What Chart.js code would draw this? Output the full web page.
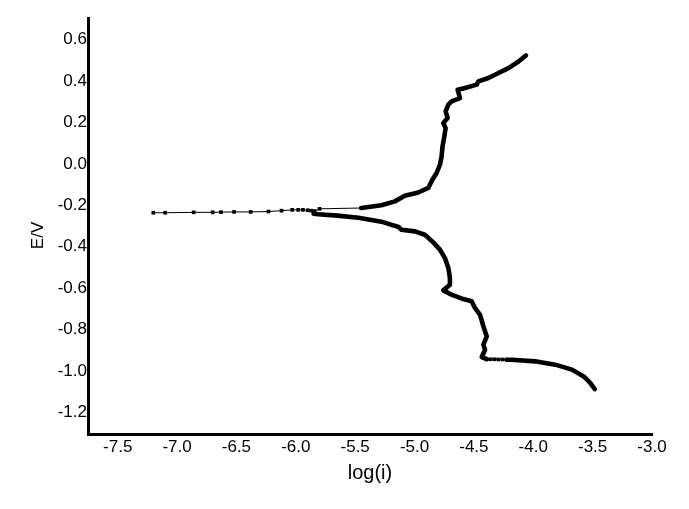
<!DOCTYPE html>
<html>
<head>
<meta charset="utf-8">
<script src="https://cdn.jsdelivr.net/npm/chart.js@4.4.1/dist/chart.umd.min.js"></script>
<style>
  html, body { margin: 0; padding: 0; background: #fff; }
  canvas { display: block; }
</style>
</head>
<body>
<canvas id="tafel" width="689" height="509"></canvas>
<script>
// Ticks dos eixos
const xTicks = [-7.5, -7.0, -6.5, -6.0, -5.5, -5.0, -4.5, -4.0, -3.5, -3.0];
const yTicks = [-1.2, -1.0, -0.8, -0.6, -0.4, -0.2, 0.0, 0.2, 0.4, 0.6];

// Ramo catodico (parte densa, de Ecorr para baixo)
const cathLogI = [-5.85, -5.811, -5.65, -5.473, -5.279, -5.135, -5.110, -4.997, -4.913, -4.842, -4.786, -4.744, -4.715, -4.702, -4.702, -4.758, -4.688, -4.589, -4.519, -4.491, -4.448, -4.420, -4.392, -4.420, -4.406, -4.434, -4.392];
const cathE    = [-0.241, -0.243, -0.250, -0.260, -0.279, -0.305, -0.318, -0.326, -0.342, -0.379, -0.414, -0.455, -0.503, -0.551, -0.584, -0.611, -0.632, -0.653, -0.664, -0.696, -0.729, -0.785, -0.833, -0.873, -0.898, -0.933, -0.943];

// Trecho pontilhado perto de -0.94 V
const dotLogI = [-4.392, -4.358, -4.324, -4.291, -4.257, -4.223];
const dotE    = [-0.944, -0.944, -0.944, -0.945, -0.945, -0.946];

// Cauda catodica final (corrente alta)
const tailLogI = [-4.223, -4.181, -3.984, -3.815, -3.674, -3.575, -3.519, -3.482];
const tailE    = [-0.946, -0.946, -0.954, -0.970, -0.994, -1.027, -1.059, -1.088];

// Pontos esparsos perto do potencial de corrosao
const ecorrLogI = [-7.20, -7.10, -6.86, -6.70, -6.63, -6.52, -6.38, -6.23, -6.12, -6.03, -5.98, -5.94, -5.90, -5.87, -5.84, -5.80, -5.448];
const ecorrE    = [-0.236, -0.236, -0.234, -0.234, -0.233, -0.232, -0.232, -0.230, -0.226, -0.222, -0.222, -0.222, -0.224, -0.226, -0.228, -0.217, -0.213];

// Ramo anodico
const anodLogI = [-5.448, -5.279, -5.166, -5.082, -4.969, -4.884, -4.850, -4.814, -4.786, -4.772, -4.764, -4.749, -4.738, -4.758, -4.721, -4.738, -4.715, -4.688, -4.617, -4.637, -4.575, -4.476, -4.462, -4.378, -4.293, -4.209, -4.124, -4.062];
const anodE    = [-0.213, -0.200, -0.181, -0.154, -0.138, -0.116, -0.076, -0.044, -0.004, 0.036, 0.085, 0.133, 0.173, 0.198, 0.222, 0.254, 0.286, 0.302, 0.318, 0.358, 0.367, 0.383, 0.399, 0.415, 0.439, 0.463, 0.495, 0.524];

const toPoints = (xs, ys) => xs.map((x, i) => ({ x: x, y: ys[i] }));

const FONT = "'Liberation Sans', Arial, sans-serif";

const thickLine = (xs, ys) => ({
    data: toPoints(xs, ys),
    showLine: true,
    borderColor: '#000',
    borderWidth: 4.6,
    borderJoinStyle: 'round',
    borderCapStyle: 'round',
    pointRadius: 0,
    tension: 0
});

const markedLine = (xs, ys) => ({
    data: toPoints(xs, ys),
    showLine: true,
    borderColor: '#000',
    borderWidth: 1,
    pointStyle: 'rect',
    pointRadius: 2.6,
    pointBackgroundColor: '#000',
    pointBorderColor: '#000',
    pointBorderWidth: 0,
    tension: 0
});

const ctx = document.getElementById('tafel').getContext('2d');
const tafelChart = new Chart(ctx, {
    type: 'scatter',
    data: {
        datasets: [
            markedLine(ecorrLogI, ecorrE),
            thickLine(cathLogI, cathE),
            markedLine(dotLogI, dotE),
            thickLine(tailLogI, tailE),
            thickLine(anodLogI, anodE)
        ]
    },
    options: {
        responsive: false,
        animation: false,
        devicePixelRatio: 1,
        layout: { padding: { top: 18, right: 37, bottom: 0, left: 0 } },
        plugins: { legend: { display: false }, tooltip: { enabled: false } },
        scales: {
            x: {
                type: 'linear',
                min: -7.75,
                max: -3.0,
                afterFit: (scale) => { scale.height = 75; },
                afterBuildTicks: (scale) => { scale.ticks = xTicks.map((v) => ({ value: v })); },
                grid: { display: false, drawTicks: false },
                border: { display: true, color: '#000', width: 3 },
                ticks: {
                    color: '#000',
                    padding: 3,
                    maxRotation: 0,
                    autoSkip: false,
                    font: { family: FONT, size: 17 },
                    callback: (v) => v.toFixed(1)
                },
                title: {
                    display: true,
                    text: 'log(i)',
                    color: '#000',
                    font: { family: FONT, size: 20 },
                    padding: { top: 0, bottom: 24 }
                }
            },
            y: {
                type: 'linear',
                min: -1.305,
                max: 0.705,
                afterFit: (scale) => { scale.width = 88; },
                afterBuildTicks: (scale) => { scale.ticks = yTicks.map((v) => ({ value: v })); },
                grid: { display: false, drawTicks: false },
                border: { display: true, color: '#000', width: 3 },
                ticks: {
                    color: '#000',
                    padding: 1,
                    autoSkip: false,
                    font: { family: FONT, size: 17 },
                    callback: (v) => v.toFixed(1)
                },
                title: {
                    display: true,
                    // espacos no fim empurram o texto rotacionado um pouco para baixo
                    text: 'E/V\u00a0\u00a0\u00a0\u00a0',
                    color: '#000',
                    font: { family: FONT, size: 17 },
                    padding: { top: 28, bottom: 0 }
                }
            }
        }
    }
});
</script>
</body>
</html>
